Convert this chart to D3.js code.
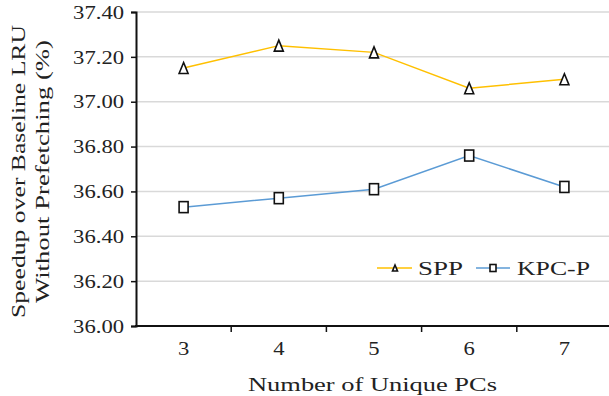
<!DOCTYPE html>
<html>
<head>
<meta charset="utf-8">
<script src="https://cdn.jsdelivr.net/npm/d3@7"></script>
<style>
  html, body { margin: 0; padding: 0; background: #fff; }
  svg { display: block; }
  text { font-family: "Liberation Serif", "Times New Roman", serif; fill: #222; }
</style>
</head>
<body>
<svg id="chart" width="609" height="396"></svg>
<script>
// Speedup per number of unique PCs
const categories = [3, 4, 5, 6, 7];
const sppValues = [37.15, 37.25, 37.22, 37.06, 37.10];
const kpcValues = [36.53, 36.57, 36.61, 36.76, 36.62];
const yTicks = [36.00, 36.20, 36.40, 36.60, 36.80, 37.00, 37.20, 37.40];
const seriesNames = ["SPP", "KPC-P"];

const svg = d3.select("#chart");
const W = 609, H = 396;
const plotLeft = 136, plotTop = 12, plotBottom = 326, bandW = 95.2;
const FS = "19.5px";

// widen the serif glyphs, like a wide Computer Modern setting
function widen(sel, factor) {
  sel.each(function () {
    const len = this.getComputedTextLength();
    d3.select(this).attr("textLength", len * factor).attr("lengthAdjust", "spacingAndGlyphs");
  });
}
function spanTo(sel, width) {
  sel.attr("textLength", width).attr("lengthAdjust", "spacingAndGlyphs");
}
const WIDE = 1.16;

const x = d3.scaleBand()
  .domain(categories)
  .range([plotLeft, plotLeft + bandW * categories.length])
  .padding(0);
const y = d3.scaleLinear().domain([36.0, 37.4]).range([plotBottom, plotTop]);

// horizontal gridlines
svg.append("g").selectAll("line")
  .data(yTicks.filter(d => d > 36.0))
  .join("line")
  .attr("x1", plotLeft).attr("x2", W)
  .attr("y1", d => y(d)).attr("y2", d => y(d))
  .attr("stroke", "#d9d9d9").attr("stroke-width", 1.5);

// y axis
const yAxis = svg.append("g")
  .attr("transform", `translate(${plotLeft},0)`)
  .call(d3.axisLeft(y).tickValues(yTicks).tickFormat(d3.format(".2f")).tickSize(5).tickPadding(7));
yAxis.select(".domain").attr("stroke", "#111").attr("stroke-width", 2);
yAxis.selectAll(".tick line").attr("stroke", "#111").attr("stroke-width", 1.5);
yAxis.selectAll("text")
  .style("font-family", '"Liberation Serif", serif').style("font-size", FS).attr("fill", "#222")
  .call(widen, WIDE);

// x axis with ticks on band boundaries
const xAxis = svg.append("g").attr("transform", `translate(0,${plotBottom})`);
xAxis.append("line")
  .attr("x1", plotLeft - 1).attr("x2", W)
  .attr("stroke", "#111").attr("stroke-width", 2);
xAxis.selectAll("line.tk")
  .data(categories.slice(1))
  .join("line").attr("class", "tk")
  .attr("x1", d => x(d)).attr("x2", d => x(d))
  .attr("y1", 0).attr("y2", 6)
  .attr("stroke", "#111").attr("stroke-width", 1.5);
xAxis.selectAll("text")
  .data(categories)
  .join("text")
  .attr("x", d => x(d) + x.bandwidth() / 2)
  .attr("y", 29)
  .attr("text-anchor", "middle")
  .style("font-size", FS)
  .text(d => d)
  .call(widen, WIDE);

// axis titles
svg.append("text")
  .attr("x", 372.5).attr("y", 391)
  .attr("text-anchor", "middle")
  .style("font-size", FS)
  .text("Number of Unique PCs")
  .call(spanTo, 249);

const yTitle = svg.append("g").attr("transform", "translate(0,171.5) rotate(-90)");
yTitle.append("text").attr("x", 0).attr("y", 25)
  .attr("text-anchor", "middle").style("font-size", FS)
  .text("Speedup over Baseline LRU").call(spanTo, 293);
yTitle.append("text").attr("x", 0).attr("y", 49)
  .attr("text-anchor", "middle").style("font-size", FS)
  .text("Without Prefetching (%)").call(spanTo, 263);

// series
const cx = d => x(d) + x.bandwidth() / 2;
const line = d3.line().x((d, i) => cx(categories[i])).y(d => y(d));

svg.append("path").datum(sppValues)
  .attr("d", line).attr("fill", "none")
  .attr("stroke", "#FFC000").attr("stroke-width", 1.5);
svg.append("path").datum(kpcValues)
  .attr("d", line).attr("fill", "none")
  .attr("stroke", "#5B9BD5").attr("stroke-width", 1.5);

function triangle(g, w, h) {
  g.append("path")
    .attr("d", `M0,${-h / 2}L${w / 2},${h / 2}L${-w / 2},${h / 2}Z`)
    .attr("fill", "#fff").attr("stroke", "#111").attr("stroke-width", 1.6)
    .attr("stroke-linejoin", "miter");
}
function square(g, w, h) {
  g.append("rect")
    .attr("x", -w / 2).attr("y", -h / 2).attr("width", w).attr("height", h)
    .attr("fill", "#fff").attr("stroke", "#111").attr("stroke-width", 1.6);
}

svg.append("g").selectAll("g")
  .data(sppValues)
  .join("g")
  .attr("transform", (d, i) => `translate(${cx(categories[i])},${y(d)})`)
  .each(function () { triangle(d3.select(this), 9, 11); });

svg.append("g").selectAll("g")
  .data(kpcValues)
  .join("g")
  .attr("transform", (d, i) => `translate(${cx(categories[i])},${y(d)})`)
  .each(function () { square(d3.select(this), 9, 11); });

// legend
const legend = svg.append("g").attr("transform", "translate(0,268)");
const l1 = legend.append("g");
l1.append("line").attr("x1", 377).attr("x2", 412).attr("stroke", "#FFC000").attr("stroke-width", 1.5);
triangle(l1.append("g").attr("transform", "translate(395,0)"), 5, 6);
l1.append("text").attr("x", 418).attr("y", 6.5).style("font-size", FS).text(seriesNames[0]).call(spanTo, 45);

const l2 = legend.append("g");
l2.append("line").attr("x1", 476).attr("x2", 510).attr("stroke", "#5B9BD5").attr("stroke-width", 1.5);
square(l2.append("g").attr("transform", "translate(493,0)"), 6, 7);
l2.append("text").attr("x", 517).attr("y", 6.5).style("font-size", FS).text(seriesNames[1]).call(spanTo, 73);
</script>
</body>
</html>
